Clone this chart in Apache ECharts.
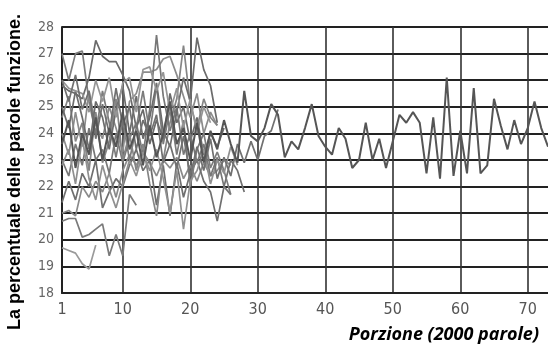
<!DOCTYPE html>
<html>
<head>
<meta charset="utf-8">
<script src="https://cdn.jsdelivr.net/npm/echarts@6/dist/echarts.min.js"></script>
<style>
html,body{margin:0;padding:0;background:#fff;}
#chart{width:548px;height:345px;}
</style>
</head>
<body>
<div id="chart"></div>
<script>
// x categories: portion number
var portions = [];
for (var i = 1; i <= 73; i++) portions.push(i);
var xTickLabels = [1, 10, 20, 30, 40, 50, 60, 70];
var yTicks = [18, 19, 20, 21, 22, 23, 24, 25, 26, 27, 28];

// long text (runs the whole range)
var longText = [23.6, 24.5, 22.7, 24.0, 23.2, 24.6, 23.0, 24.2, 23.5, 24.8, 23.4, 24.1, 22.8, 24.3, 23.1, 24.0, 25.2, 23.6, 24.2, 23.0, 24.4, 22.9, 24.1, 23.4, 24.5, 23.6, 22.9,
  25.6, 23.9, 23.7, 24.2, 25.1, 24.7, 23.1, 23.7, 23.4, 24.2, 25.1, 23.9, 23.5, 23.2, 24.2, 23.8, 22.7, 23.0, 24.4, 23.0, 23.8, 22.7,
  23.7, 24.7, 24.4, 24.8, 24.4, 22.5, 24.6, 22.3, 26.1, 22.4, 24.1, 22.5, 25.7, 22.5, 22.8, 25.3, 24.3, 23.4, 24.5, 23.6, 24.2, 25.2, 24.2, 23.5];

// shorter texts
var text1 = [19.7, 19.6, 19.5, 19.1, 18.9, 19.8];
var text2 = [20.7, 20.8, 20.8, 20.1, 20.2, 20.4, 20.6, 19.4, 20.2, 19.4, 21.7, 21.3];
var text3 = [21.0, 21.1, 20.9, 22.0, 21.6, 22.2, 21.8, 22.5, 21.6, 22.6, 23.2, 22.8, 23.3, 22.9, 22.4, 23.0, 22.7, 23.1, 22.3, 22.8, 22.2, 22.9, 22.4, 22.6, 23.0, 22.8];
var text4 = [21.4, 22.2, 21.5, 22.5, 22.0, 23.0, 21.2, 21.8, 22.3, 22.0, 22.8, 23.4, 22.6, 23.0, 21.3, 22.8, 20.9, 22.9, 21.6, 22.5, 23.0, 22.2, 21.8, 20.7, 22.0, 23.0, 22.6, 21.8];
var text5 = [27.0, 26.0, 27.0, 27.1, 25.2, 24.0, 25.6, 24.4, 23.1, 24.5, 23.0, 24.2, 25.6, 24.0, 25.8, 23.6, 24.9, 23.2, 24.5, 22.0, 23.4, 24.0, 22.7, 23.3, 22.6, 21.7];
var text6 = [25.8, 25.6, 25.5, 25.3, 26.1, 27.5, 26.9, 26.7, 26.7, 26.2, 25.6, 24.2, 24.9, 23.6, 24.5, 23.8, 25.5, 24.4, 25.0, 23.7, 24.6, 23.2, 24.0, 23.5, 24.2];
var text7 = [24.0, 23.2, 24.8, 23.5, 25.6, 24.3, 23.8, 25.0, 24.2, 23.3, 25.2, 25.5, 26.3, 26.3, 26.4, 26.8, 26.9, 26.2, 25.4, 24.6, 25.5, 24.0, 24.8, 24.3];
var text8 = [23.0, 22.4, 23.6, 22.8, 24.2, 23.0, 23.4, 22.5, 24.0, 22.9, 23.8, 24.4, 23.2, 24.9, 27.7, 25.4, 24.1, 25.0, 23.2, 24.0, 22.9, 23.6, 22.4, 23.1, 22.0, 21.7];
var text9 = [24.6, 25.4, 23.7, 24.4, 22.6, 24.8, 22.9, 23.7, 25.3, 23.0, 24.0, 22.6, 23.6, 22.1, 20.9, 23.0, 24.4, 25.3, 27.3, 25.1, 24.2, 25.3, 24.6, 24.3];
var text10 = [25.0, 24.2, 25.6, 24.6, 23.4, 25.2, 24.6, 23.4, 24.9, 25.8, 24.0, 25.4, 23.8, 24.6, 25.9, 24.1, 23.5, 24.8, 26.1, 25.2, 27.6, 26.4, 25.8, 24.4];
var text11 = [22.8, 23.4, 22.1, 23.8, 22.3, 21.5, 22.8, 21.9, 21.2, 22.1, 23.0, 22.4, 23.3, 22.6, 23.4, 22.3, 21.0, 22.6, 20.4, 22.2, 22.6, 23.4, 22.1, 23.0, 22.5, 23.5, 22.8];
var text12 = [26.0, 25.7, 25.6, 25.5, 24.8, 26.0, 25.2, 26.1, 24.6, 25.9, 26.1, 24.8, 26.4, 26.5, 25.6, 26.3, 24.8, 25.7, 24.2, 25.3, 24.0, 25.0, 24.4];
var text13 = [26.0, 25.2, 26.2, 24.9, 25.6, 23.8, 25.1, 24.0, 25.7, 24.3, 25.0, 23.4, 24.5, 23.9, 24.7, 22.9, 23.6, 22.7, 23.9, 22.4, 23.5, 22.6, 23.8, 22.3, 23.1, 22.4, 23.6, 22.9, 23.7, 23.0, 23.9, 24.1, 24.9];

var shortTexts = [text1, text2, text3, text4, text5, text6, text7, text8, text9, text10, text11, text12, text13];
var shades = ['#9a9a9a', '#7a7a7a', '#8a8a8a', '#6f6f6f', '#7c7c7c', '#6a6a6a', '#8c8c8c', '#777777', '#858585', '#6c6c6c', '#909090', '#959595', '#707070'];

var series = shortTexts.map(function (d, k) {
  return {
    type: 'line', data: d, symbol: 'none', silent: true,
    lineStyle: { color: shades[k], width: 1.7 }
  };
});
series.push({
  type: 'line', data: longText, symbol: 'none', silent: true,
  lineStyle: { color: '#555555', width: 2 }
});

var chart = echarts.init(document.getElementById('chart'));
chart.setOption({
  animation: false,
  backgroundColor: '#ffffff',
  grid: { left: 62, right: 0, top: 27, bottom: 52 },
  xAxis: {
    type: 'category',
    data: portions,
    boundaryGap: false,
    axisLine: { show: true, lineStyle: { color: '#222', width: 2 } },
    axisTick: { show: false },
    axisLabel: {
      interval: function (idx, val) { return xTickLabels.indexOf(Number(val)) >= 0; },
      color: '#555', fontSize: 16, margin: 9,
      fontFamily: '"Liberation Sans Narrow", "DejaVu Sans Condensed", sans-serif'
    },
    splitLine: {
      show: true,
      interval: function (idx, val) { return Number(val) % 10 === 0; },
      lineStyle: { color: '#333', width: 1.6 }
    }
  },
  yAxis: {
    type: 'value',
    min: yTicks[0], max: yTicks[yTicks.length - 1], interval: 1,
    axisLine: { show: true, lineStyle: { color: '#222', width: 2 } },
    axisTick: { show: false },
    axisLabel: {
      color: '#666', fontSize: 14, margin: 8,
      fontFamily: '"Liberation Sans Narrow", "DejaVu Sans Condensed", sans-serif'
    },
    splitLine: { show: true, lineStyle: { color: '#222', width: 2 } }
  },
  graphic: [
    {
      type: 'text', x: 15, y: 172, rotation: Math.PI / 2,
      style: {
        text: 'La percentuale delle parole funzione.',
        fontFamily: '"Liberation Sans", Arial, sans-serif',
        fontSize: 18, fontWeight: 'bold', fill: '#000',
        align: 'center', verticalAlign: 'middle'
      }
    },
    {
      type: 'text', x: 539, y: 335,
      style: {
        text: 'Porzione (2000 parole)',
        fontFamily: '"Open Sans", sans-serif',
        fontSize: 18, fontWeight: 'bold', fontStyle: 'italic', fill: '#000',
        align: 'right', verticalAlign: 'middle'
      }
    }
  ],
  series: series
});
</script>
</body>
</html>
